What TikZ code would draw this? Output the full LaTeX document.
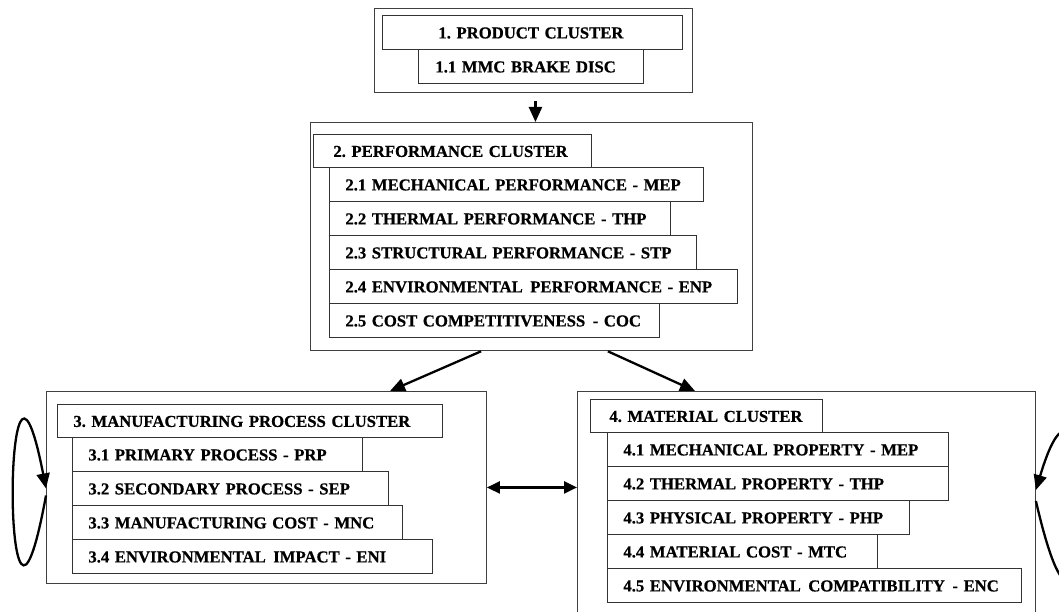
\documentclass[tikz,border=0pt]{standalone}
\usepackage{fontspec}
\setmainfont{Liberation Serif}[BoldFeatures={FakeBold=0.6}]
\usetikzlibrary{arrows.meta}
\frenchspacing
\newcommand{\wgap}{\hspace{0.45em}}

\tikzset{
	clusterbox/.style={draw=black!75, line width=0.9pt, anchor=north west, inner sep=0pt},
	itembox/.style={draw=black!80, line width=0.8pt, anchor=north west, minimum height=34pt,
		inner ysep=0pt, inner xsep=16pt, text width={#1-32}, align=left,
		text height=12pt, text depth=0pt, font=\fontsize{16.7}{19}\selectfont\bfseries,
		execute at begin node={\leavevmode\hbox\bgroup}, execute at end node={\egroup}},
	arr/.style={line width=2.3pt, -{Triangle[length=15pt,width=13pt]}},
	dblarr/.style={line width=2.3pt, {Triangle[length=13pt,width=12pt]}-{Triangle[length=13pt,width=12pt]}},
}

\begin{document}
\begin{tikzpicture}[x=1pt, y=-1pt]
			%%%%% START %%%%%
			\useasboundingbox (0, 0) rectangle (1059, 612);
			
			% 1. product cluster
			\node[clusterbox, minimum width=318pt, minimum height=84pt] (prod) at (374, 8) {};
			\node[itembox=300, inner xsep=56pt, text width=188pt] (prodtitle) at (382, 15) {1. PRODUCT CLUSTER};
			\node[itembox=225, inner xsep=17pt, text width=191pt] (disc) at (418, 49) {1.1 MMC BRAKE DISC};
			
			% 2. performance cluster
			\node[clusterbox, minimum width=442pt, minimum height=228pt] (perf) at (310, 122) {};
			\node[itembox=278, minimum height=33pt, inner xsep=20pt, text width=238pt] (perftitle) at (313, 134) {2. PERFORMANCE CLUSTER};
			\node[itembox=374] (perfmep) at (329, 167) {2.1 MECHANICAL PERFORMANCE - MEP};
			\node[itembox=341] (perfthp) at (329, 201) {2.2 THERMAL PERFORMANCE - THP};
			\node[itembox=367] (perfstp) at (329, 235) {2.3 STRUCTURAL PERFORMANCE - STP};
			\node[itembox=408] (perfenp) at (329, 269) {2.4 ENVIRONMENTAL\wgap PERFORMANCE - ENP};
			\node[itembox=330] (perfcoc) at (329, 303) {2.5 COST COMPETITIVENESS\wgap - COC};
			
			% 3. manufacturing process cluster
			\node[clusterbox, minimum width=440pt, minimum height=192pt] (manu) at (46, 391) {};
			\node[itembox=385, minimum height=33pt] (manutitle) at (57, 404) {3. MANUFACTURING PROCESS CLUSTER};
			\node[itembox=290] (manuprp) at (72, 437) {3.1 PRIMARY PROCESS - PRP};
			\node[itembox=316] (manusep) at (72, 471) {3.2 SECONDARY PROCESS - SEP};
			\node[itembox=330] (manumnc) at (72, 505) {3.3 MANUFACTURING COST - MNC};
			\node[itembox=360] (manueni) at (72, 539) {3.4 ENVIRONMENTAL\wgap IMPACT - ENI};
			
			% 4. material cluster
			\node[clusterbox, minimum width=458pt, minimum height=230pt] (mat) at (577, 391) {};
			\node[itembox=232, minimum height=33pt, inner xsep=19pt, text width=194pt] (mattitle) at (590, 399) {4. MATERIAL CLUSTER};
			\node[itembox=341] (matmep) at (607, 432) {4.1 MECHANICAL PROPERTY - MEP};
			\node[itembox=341] (matthp) at (607, 466) {4.2 THERMAL PROPERTY - THP};
			\node[itembox=302] (matphp) at (607, 500) {4.3 PHYSICAL PROPERTY - PHP};
			\node[itembox=270] (matmtc) at (607, 534) {4.4 MATERIAL COST - MTC};
			\node[itembox=414] (matenc) at (607, 568) {4.5 ENVIRONMENTAL\wgap COMPATIBILITY\wgap - ENC};
			
			% links
			\draw[arr, shorten <=8pt] ([xshift=2pt]prod.south) -- ([xshift=2pt]prod.south |- perf.north);
			\draw[arr, shorten <=1pt] ([xshift=172pt]perf.south west) -- ([xshift=344pt]manu.north west);
			\draw[arr, shorten <=1pt] ([xshift=297pt]perf.south west) -- ([xshift=118pt]mat.north west);
			\draw[dblarr] (manu.east) -- (manu.east -| mat.west);
			
			% self loops
			\draw[arr] ([yshift=-8pt]manu.west) .. controls +(-44, 240) and +(-44, -225) .. ([yshift=-1pt]manu.west);
			\draw[arr] ([yshift=-110pt]mat.north east) .. controls +(60, 260) and +(60, -200) .. ([yshift=-99pt]mat.north east);
			
			%%%%% END %%%%%
\end{tikzpicture}
\end{document}
